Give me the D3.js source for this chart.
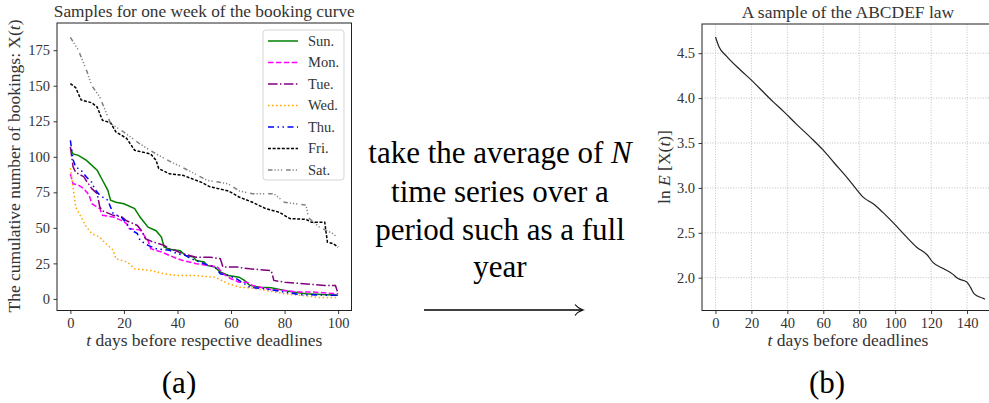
<!DOCTYPE html>
<html><head><meta charset="utf-8">
<script src="https://cdn.jsdelivr.net/npm/d3@7"></script>
<style>
html,body{margin:0;padding:0;background:#fff;}
svg text{font-family:"Liberation Serif","Times New Roman",serif;}
</style></head>
<body><svg id="c" width="989" height="403"></svg>
<script>
// ---------- data (left panel) ----------
const dayNames = ["Sun.","Mon.","Tue.","Wed.","Thu.","Fri.","Sat."];
const sunDays = [0,1,3,6,10,12,14,15,17,20,24,26,29,32,34,35,37,41,43,46,47,50,51,54,56,59,63,65,67,71,75,80,82,88,100];
const sunVals = [105.8,102,101,97.5,90.5,83.5,76.4,69.4,68,67,63.5,57.6,50.5,48,43.5,36.5,35,34,30.6,29.4,27,26,23.6,22.4,18.9,16.5,15.3,13,9.5,8.2,7.8,6,5.2,3.6,2.5];
const monDays = [0,1,3,5,7,8,11,12,16,19,21,22,26,29,30,34,37,40,42,47,52,55,57,60,63,66,68,75,80,85,91,100];
const monVals = [88,81,80,77.6,73,67,63.5,58.8,57.6,55.3,53,49.4,48.6,41,35.4,33,30.6,28.3,27.1,24.8,23.5,22.4,17.7,14.2,11.8,11.8,9.5,6.5,6,4.8,4.8,3.6];
const tueDays = [0,1,2,5,6,8,10,11,12,16,19,21,25,27,28,31,35,37,39,42,47,52,56,57,62,67,75,76,80,87,95,99,100];
const tueVals = [107,93,89,86,83,77.6,74,64.6,62,58.8,58,55,51.7,47,42.4,40,37.7,35.3,34.2,31.8,29.4,29.4,28.3,22.4,22.4,21.2,20,13,11.8,10.7,9.5,9.5,3.6];
const wedDays = [0,1,2,4,6,8,11,12,16,17,21,22,24,30,35,40,46,54,59,63,67,73,80,86,93,100];
const wedVals = [92,78.7,64.6,57.6,50.5,46,43.5,41.2,34.2,28.3,26,24.8,21.2,20,17.7,16.5,16.5,15.3,10.7,8.3,7.8,6,3.6,2.5,1,1];
const thuDays = [0,1,2,4,6,8,9,11,14,15,16,19,21,23,25,26,29,32,37,40,43,45,50,54,56,59,62,65,67,73,80,86,100];
const thuVals = [111.6,98,92.8,90.5,85.8,82,77.6,72.9,69.4,64.6,60,57.6,53,48.2,46,41.2,37.7,35.3,34.2,31.8,30.6,28.3,24.8,22.4,17.7,16.5,14.2,10.7,8.2,7,4.8,3,2.5];
const friDays = [0,2,4,8,10,12,15,17,21,24,30,32,33,37,42,49,52,59,63,68,73,78,82,88,90,95,96,98,100];
const friVals = [151.5,148.6,140,138,135,125.7,124,117.5,113,104.6,102,97.5,91.7,88,87,82,79,76,71.7,68,63.5,61,56.5,56,54,54,40,39,36.5];
const satDays = [0,3,6,8,11,15,21,26,32,37,44,51,59,63,68,76,80,88,89,93,98,100];
const satVals = [184,175,161,150,142,123.5,116,109,102,97,90.5,83.5,81,76,74,74,68,66,57,50.5,46,43];
const leftXTicks = [0,20,40,60,80,100];
const leftYTicks = [0,25,50,75,100,125,150,175];

// ---------- data (right panel) ----------
const avgDays = [0,2,6,14,20,27,32,38,45,53,60,66,73,79,82,88,93,99,106,112,118,121,127,132,135,140,142,144,149,150];
const avgLnVals = [4.68,4.57,4.47,4.31,4.20,4.06,3.96,3.85,3.71,3.56,3.42,3.28,3.12,2.97,2.90,2.82,2.73,2.61,2.46,2.34,2.25,2.17,2.10,2.04,1.99,1.95,1.89,1.82,1.77,1.76];
const rightXTicks = [0,20,40,60,80,100,120,140];
const rightYTicks = [2.0,2.5,3.0,3.5,4.0,4.5];

const middleLines = ["take the average of |N|","time series over a","period such as a full","year"];

// ---------- styles ----------
const styles = [
  {color:"#008000", dash:null},
  {color:"#ff00ff", dash:"5.5,2.4"},
  {color:"#800080", dash:"9.6,2.4,1.5,2.4"},
  {color:"#ffa500", dash:"1.5,2.5"},
  {color:"#0000ff", dash:"6,3.5,1.5,3.5,1.5,3.5"},
  {color:"#000000", dash:"3,1.6"},
  {color:"#808080", dash:"4.5,2,1.2,2,1.2,2,1.2,4"}
];
const seriesDays = [sunDays,monDays,tueDays,wedDays,thuDays,friDays,satDays];
const seriesVals = [sunVals,monVals,tueVals,wedVals,thuVals,friVals,satVals];

const svg = d3.select("#c");
const txt = "#333";

// ================= LEFT PANEL =================
const L = {x0:57, x1:351.5, y0:23, y1:310.5};
const xL = d3.scaleLinear().domain([-5,105]).range([L.x0,L.x1]);
const yL = d3.scaleLinear().domain([-8.15,194.15]).range([L.y1,L.y0]);
const gL = svg.append("g");

const lineL = d3.line().x(d=>xL(d[0])).y(d=>yL(d[1]));
seriesDays.forEach((days,i)=>{
  const pts = days.map((t,j)=>[t,seriesVals[i][j]]);
  gL.append("path").attr("d",lineL(pts)).attr("fill","none")
    .attr("stroke",styles[i].color).attr("stroke-width",1.5)
    .attr("stroke-dasharray",styles[i].dash);
});

const axBL = gL.append("g").attr("transform",`translate(0,${L.y1})`)
  .call(d3.axisBottom(xL).tickValues(leftXTicks).tickSize(3.5).tickPadding(3.5));
const axLL = gL.append("g").attr("transform",`translate(${L.x0},0)`)
  .call(d3.axisLeft(yL).tickValues(leftYTicks).tickSize(3.5).tickPadding(3.5));
[axBL,axLL].forEach(a=>{
  a.select(".domain").remove();
  a.selectAll(".tick line").attr("stroke","#222").attr("stroke-width",0.9);
  a.selectAll(".tick text").attr("fill",txt).style("font-size","14.5px").style("font-family","'Liberation Serif',serif");
});
gL.append("rect").attr("x",L.x0).attr("y",L.y0).attr("width",L.x1-L.x0).attr("height",L.y1-L.y0)
  .attr("fill","none").attr("stroke","#222").attr("stroke-width",1);

gL.append("text").attr("x",(L.x0+L.x1)/2).attr("y",17).attr("text-anchor","middle")
  .attr("fill",txt).style("font-size","17.3px").text("Samples for one week of the booking curve");
const xlabL = gL.append("text").attr("x",(L.x0+L.x1)/2).attr("y",346).attr("text-anchor","middle")
  .attr("fill",txt).style("font-size","17.5px");
xlabL.append("tspan").attr("font-style","italic").text("t");
xlabL.append("tspan").text(" days before respective deadlines");
const ylabL = gL.append("text").attr("transform",`translate(20,166) rotate(-90)`).attr("text-anchor","middle")
  .attr("fill",txt).style("font-size","17.5px");
ylabL.append("tspan").text("The cumulative number of bookings: X(");
ylabL.append("tspan").attr("font-style","italic").text("t");
ylabL.append("tspan").text(")");

// legend
const lg = gL.append("g");
lg.append("rect").attr("x",263).attr("y",30).attr("width",81).attr("height",150).attr("rx",3)
  .attr("fill","#fff").attr("fill-opacity",0.8).attr("stroke","#d5d5d5").attr("stroke-width",1);
dayNames.forEach((n,i)=>{
  const yy = 41 + i*21.5;
  lg.append("line").attr("x1",268).attr("x2",298).attr("y1",yy).attr("y2",yy)
    .attr("stroke",styles[i].color).attr("stroke-width",1.5).attr("stroke-dasharray",styles[i].dash);
  lg.append("text").attr("x",308).attr("y",yy+4.5).attr("fill",txt).style("font-size","14.5px").text(n);
});

// ================= MIDDLE =================
const gM = svg.append("g");
const baseY = [163,201.5,240,277];
middleLines.forEach((ln,i)=>{
  const t = gM.append("text").attr("x",500).attr("y",baseY[i]).attr("text-anchor","middle")
    .attr("fill","#000").style("font-size","31px");
  ln.split("|").forEach((part,k)=>{
    const s = t.append("tspan").text(part);
    if(k===1) s.attr("font-style","italic");
  });
});
gM.append("line").attr("x1",424).attr("x2",582).attr("y1",310).attr("y2",310)
  .attr("stroke","#000").attr("stroke-width",1.3);
gM.append("path").attr("d","M575,304.5 Q578,308.5 583,310 Q578,311.5 575,315.5")
  .attr("fill","none").attr("stroke","#000").attr("stroke-width",1.2);

gM.append("text").attr("x",179).attr("y",393).attr("text-anchor","middle").attr("fill","#000")
  .style("font-size","31px").text("(a)");
gM.append("text").attr("x",827).attr("y",393).attr("text-anchor","middle").attr("fill","#000")
  .style("font-size","31px").text("(b)");

// ================= RIGHT PANEL =================
const R = {x0:702, x1:998.5, y0:24, y1:310.5};
const xR = d3.scaleLinear().domain([-7.5,157.5]).range([R.x0,R.x1]);
const yR = d3.scaleLinear().domain([1.635,4.825]).range([R.y1,R.y0]);
const gR = svg.append("g");

// grid
rightXTicks.forEach(t=>{
  gR.append("line").attr("x1",xR(t)).attr("x2",xR(t)).attr("y1",R.y0).attr("y2",R.y1)
    .attr("stroke","#b0b0b0").attr("stroke-width",0.8).attr("stroke-dasharray","1,1.6");
});
rightYTicks.forEach(v=>{
  gR.append("line").attr("x1",R.x0).attr("x2",R.x1).attr("y1",yR(v)).attr("y2",yR(v))
    .attr("stroke","#b0b0b0").attr("stroke-width",0.8).attr("stroke-dasharray","1,1.6");
});

const lineR = d3.line().x(d=>xR(d[0])).y(d=>yR(d[1])).curve(d3.curveMonotoneX);
gR.append("path").attr("d",lineR(avgDays.map((t,j)=>[t,avgLnVals[j]])))
  .attr("fill","none").attr("stroke","#222").attr("stroke-width",1.2);

const axBR = gR.append("g").attr("transform",`translate(0,${R.y1})`)
  .call(d3.axisBottom(xR).tickValues(rightXTicks).tickSize(3.5).tickPadding(3.5));
const axLR = gR.append("g").attr("transform",`translate(${R.x0},0)`)
  .call(d3.axisLeft(yR).tickValues(rightYTicks).tickFormat(d3.format(".1f")).tickSize(3.5).tickPadding(3.5));
[axBR,axLR].forEach(a=>{
  a.select(".domain").remove();
  a.selectAll(".tick line").attr("stroke","#222").attr("stroke-width",0.9);
  a.selectAll(".tick text").attr("fill",txt).style("font-size","14.5px").style("font-family","'Liberation Serif',serif");
});
gR.append("rect").attr("x",R.x0).attr("y",R.y0).attr("width",R.x1-R.x0).attr("height",R.y1-R.y0)
  .attr("fill","none").attr("stroke","#222").attr("stroke-width",1);

gR.append("text").attr("x",848).attr("y",18).attr("text-anchor","middle")
  .attr("fill",txt).style("font-size","17.5px").text("A sample of the ABCDEF law");
const xlabR = gR.append("text").attr("x",848).attr("y",346).attr("text-anchor","middle")
  .attr("fill",txt).style("font-size","17.5px");
xlabR.append("tspan").attr("font-style","italic").text("t");
xlabR.append("tspan").text(" days before deadlines");
const ylabR = gR.append("text").attr("transform",`translate(670,167) rotate(-90)`).attr("text-anchor","middle")
  .attr("fill",txt).style("font-size","17.5px");
ylabR.append("tspan").text("ln ");
ylabR.append("tspan").attr("font-style","italic").text("E");
ylabR.append("tspan").text(" [X(");
ylabR.append("tspan").attr("font-style","italic").text("t");
ylabR.append("tspan").text(")]");
</script></body></html>
